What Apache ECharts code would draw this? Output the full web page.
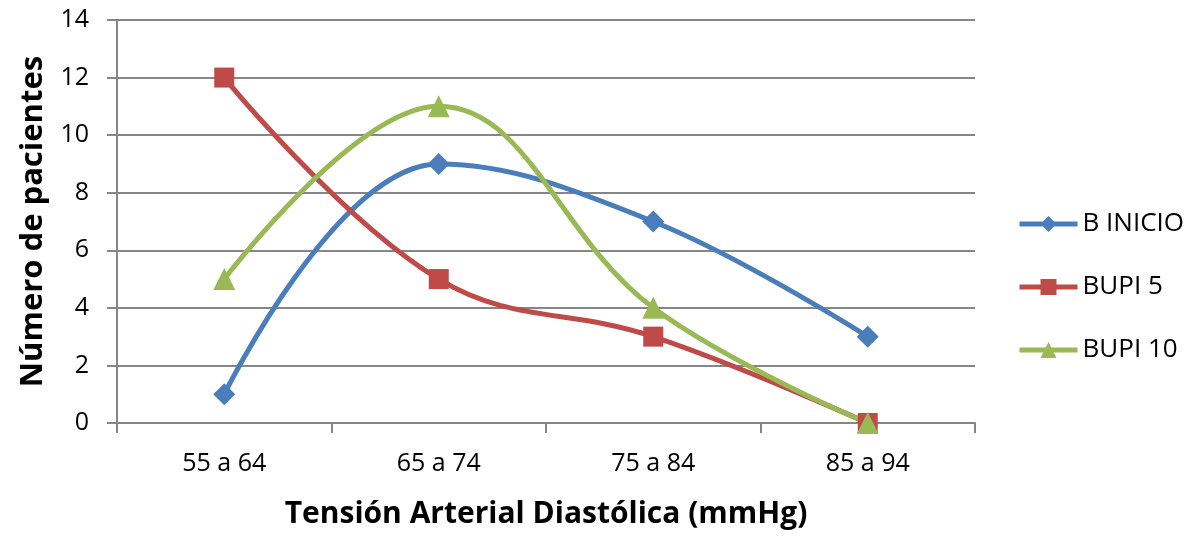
<!DOCTYPE html>
<html>
<head>
<meta charset="utf-8">
<script src="https://cdn.jsdelivr.net/npm/echarts@6/dist/echarts.min.js"></script>
<style>
  html, body { margin: 0; padding: 0; background: #fff; }
  #chart { width: 1190px; height: 538px; }
</style>
</head>
<body>
<div id="chart"></div>
<script>
const categories = ['55 a 64', '65 a 74', '75 a 84', '85 a 94']
const bInicio = [1, 9, 7, 3]
const bupi5 = [12, 5, 3, 0]
const bupi10 = [5, 11, 4, 0]
const yTicks = [0, 2, 4, 6, 8, 10, 12, 14]

const font = '"Open Sans", "Liberation Sans", sans-serif'
const gridColor = '#868686'

const chart = echarts.init(document.getElementById('chart'))

function lineSeries(name, data, color, symbol, size) {
  return {
    name: name,
    type: 'line',
    data: data,
    smooth: 0.4,
    smoothMonotone: 'none',
    symbol: symbol,
    symbolSize: size,
    lineStyle: { color: color, width: 5 },
    itemStyle: { color: color },
    emphasis: { disabled: true },
    z: 3
  }
}

chart.setOption({
  animation: false,
  textStyle: { fontFamily: font },
  grid: { left: 117, right: 215, top: 20, bottom: 115 },
  legend: {
    orient: 'vertical',
    left: 1012,
    top: 206,
    itemWidth: 58,
    itemHeight: 20,
    itemGap: 37,
    lineStyle: { width: 5 },
    textStyle: { fontSize: 26, color: '#000', fontFamily: font, padding: [0, 0, 0, 0] },
    data: ['B INICIO', 'BUPI 5', 'BUPI 10']
  },
  xAxis: {
    type: 'category',
    data: categories,
    boundaryGap: true,
    name: 'Tensión Arterial Diastólica (mmHg)',
    nameLocation: 'middle',
    nameGap: 76,
    nameTextStyle: { fontSize: 30, fontWeight: 'bold', color: '#000', fontFamily: font },
    axisLine: { lineStyle: { color: gridColor, width: 2 } },
    axisTick: { show: true, length: 10, lineStyle: { color: gridColor, width: 2 } },
    axisLabel: { fontSize: 25, color: '#000', margin: 28 }
  },
  yAxis: {
    type: 'value',
    min: 0,
    max: 14,
    interval: 2,
    name: 'Número de pacientes',
    nameLocation: 'middle',
    nameGap: 68,
    nameTextStyle: { fontSize: 31, fontWeight: 'bold', color: '#000', fontFamily: font },
    axisLine: { show: true, lineStyle: { color: gridColor, width: 2 } },
    axisTick: { show: true, length: 10, lineStyle: { color: gridColor, width: 2 } },
    axisLabel: {
      fontSize: 25, color: '#000', margin: 28,
      formatter: function (v) { return yTicks.indexOf(v) >= 0 ? String(v) : '' }
    },
    splitLine: { lineStyle: { color: gridColor, width: 2 } }
  },
  series: [
    lineSeries('B INICIO', bInicio, '#4a7ebb', 'diamond', 22),
    lineSeries('BUPI 5', bupi5, '#be4b48', 'rect', 20),
    lineSeries('BUPI 10', bupi10, '#98b954', 'triangle', 22)
  ]
})
</script>
</body>
</html>
